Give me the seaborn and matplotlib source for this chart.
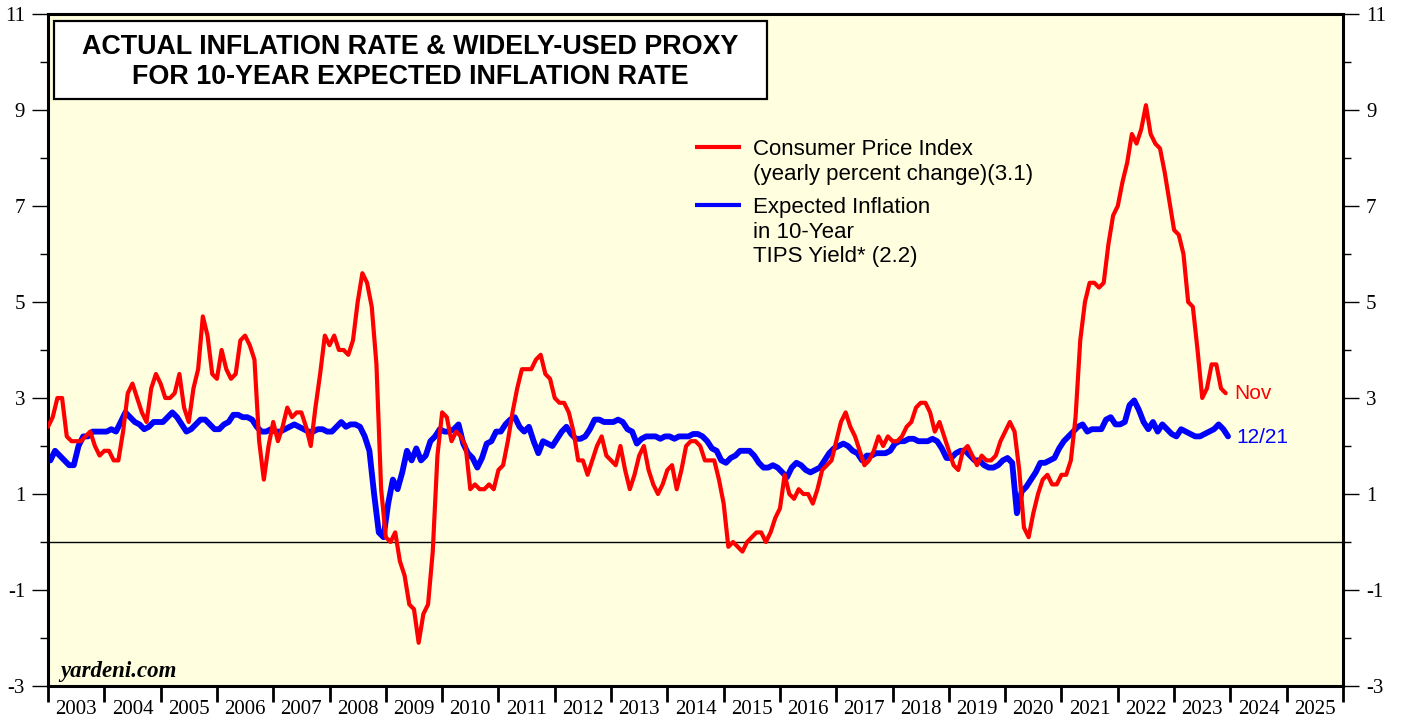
import matplotlib
matplotlib.use("Agg")
import matplotlib.pyplot as plt
import matplotlib.patches as mpatches
import pandas as pd
import seaborn as sns

sns.set_theme(style="ticks")
plt.rcParams.update({
    "text.color": "black",
    "axes.labelcolor": "black",
    "xtick.color": "black",
    "ytick.color": "black",
})

# CPI, yearly percent change, monthly from Dec 2002 to Nov 2023
cpi_start = "2002-12-01"
cpi_values = [
    2.4,
    2.6, 3.0, 3.0, 2.2, 2.1, 2.1, 2.1, 2.2, 2.3, 2.0, 1.8, 1.9,  # 2003
    1.9, 1.7, 1.7, 2.3, 3.1, 3.3, 3.0, 2.7, 2.5, 3.2, 3.5, 3.3,  # 2004
    3.0, 3.0, 3.1, 3.5, 2.8, 2.5, 3.2, 3.6, 4.7, 4.3, 3.5, 3.4,  # 2005
    4.0, 3.6, 3.4, 3.5, 4.2, 4.3, 4.1, 3.8, 2.1, 1.3, 2.0, 2.5,  # 2006
    2.1, 2.4, 2.8, 2.6, 2.7, 2.7, 2.4, 2.0, 2.8, 3.5, 4.3, 4.1,  # 2007
    4.3, 4.0, 4.0, 3.9, 4.2, 5.0, 5.6, 5.4, 4.9, 3.7, 1.1, 0.1,  # 2008
    0.0, 0.2, -0.4, -0.7, -1.3, -1.4, -2.1, -1.5, -1.3, -0.2, 1.8, 2.7,  # 2009
    2.6, 2.1, 2.3, 2.2, 2.0, 1.1, 1.2, 1.1, 1.1, 1.2, 1.1, 1.5,  # 2010
    1.6, 2.1, 2.7, 3.2, 3.6, 3.6, 3.6, 3.8, 3.9, 3.5, 3.4, 3.0,  # 2011
    2.9, 2.9, 2.7, 2.3, 1.7, 1.7, 1.4, 1.7, 2.0, 2.2, 1.8, 1.7,  # 2012
    1.6, 2.0, 1.5, 1.1, 1.4, 1.8, 2.0, 1.5, 1.2, 1.0, 1.2, 1.5,  # 2013
    1.6, 1.1, 1.5, 2.0, 2.1, 2.1, 2.0, 1.7, 1.7, 1.7, 1.3, 0.8,  # 2014
    -0.1, 0.0, -0.1, -0.2, 0.0, 0.1, 0.2, 0.2, 0.0, 0.2, 0.5, 0.7,  # 2015
    1.4, 1.0, 0.9, 1.1, 1.0, 1.0, 0.8, 1.1, 1.5, 1.6, 1.7, 2.1,  # 2016
    2.5, 2.7, 2.4, 2.2, 1.9, 1.6, 1.7, 1.9, 2.2, 2.0, 2.2, 2.1,  # 2017
    2.1, 2.2, 2.4, 2.5, 2.8, 2.9, 2.9, 2.7, 2.3, 2.5, 2.2, 1.9,  # 2018
    1.6, 1.5, 1.9, 2.0, 1.8, 1.6, 1.8, 1.7, 1.7, 1.8, 2.1, 2.3,  # 2019
    2.5, 2.3, 1.5, 0.3, 0.1, 0.6, 1.0, 1.3, 1.4, 1.2, 1.2, 1.4,  # 2020
    1.4, 1.7, 2.6, 4.2, 5.0, 5.4, 5.4, 5.3, 5.4, 6.2, 6.8, 7.0,  # 2021
    7.5, 7.9, 8.5, 8.3, 8.6, 9.1, 8.5, 8.3, 8.2, 7.7, 7.1, 6.5,  # 2022
    6.4, 6.0, 5.0, 4.9, 4.0, 3.0, 3.2, 3.7, 3.7, 3.2, 3.1,  # 2023
]

# Expected inflation in 10-year TIPS yield, monthly from Jan 2003 to Dec 2023
tips_start = "2003-01-01"
tips_values = [
    1.7, 1.9, 1.8, 1.7, 1.6, 1.6, 2.0, 2.2, 2.2, 2.3, 2.3, 2.3,  # 2003
    2.3, 2.35, 2.3, 2.5, 2.7, 2.6, 2.5, 2.45, 2.35, 2.4, 2.5, 2.5,  # 2004
    2.5, 2.6, 2.7, 2.6, 2.45, 2.3, 2.35, 2.45, 2.55, 2.55, 2.45, 2.35,  # 2005
    2.35, 2.45, 2.5, 2.65, 2.65, 2.6, 2.6, 2.55, 2.4, 2.3, 2.3, 2.35,  # 2006
    2.3, 2.3, 2.35, 2.4, 2.45, 2.4, 2.35, 2.3, 2.3, 2.35, 2.35, 2.3,  # 2007
    2.3, 2.4, 2.5, 2.4, 2.45, 2.45, 2.4, 2.2, 1.9, 1.0, 0.2, 0.1,  # 2008
    0.8, 1.3, 1.1, 1.45, 1.9, 1.7, 1.95, 1.7, 1.8, 2.1, 2.2, 2.35,  # 2009
    2.3, 2.3, 2.35, 2.45, 2.05, 1.85, 1.75, 1.55, 1.75, 2.05, 2.1, 2.3,  # 2010
    2.3, 2.45, 2.55, 2.6, 2.4, 2.3, 2.4, 2.1, 1.85, 2.1, 2.05, 2.0,  # 2011
    2.15, 2.3, 2.4, 2.25, 2.15, 2.15, 2.2, 2.35, 2.55, 2.55, 2.5, 2.5,  # 2012
    2.5, 2.55, 2.5, 2.35, 2.3, 2.05, 2.15, 2.2, 2.2, 2.2, 2.15, 2.2,  # 2013
    2.2, 2.15, 2.2, 2.2, 2.2, 2.25, 2.25, 2.2, 2.1, 1.95, 1.9, 1.7,  # 2014
    1.65, 1.75, 1.8, 1.9, 1.9, 1.9, 1.8, 1.65, 1.55, 1.55, 1.6, 1.55,  # 2015
    1.45, 1.35, 1.55, 1.65, 1.6, 1.5, 1.45, 1.5, 1.55, 1.7, 1.85, 1.95,  # 2016
    2.0, 2.05, 2.0, 1.9, 1.85, 1.7, 1.8, 1.8, 1.85, 1.85, 1.85, 1.9,  # 2017
    2.05, 2.1, 2.1, 2.15, 2.15, 2.1, 2.1, 2.1, 2.15, 2.1, 1.95, 1.75,  # 2018
    1.75, 1.85, 1.9, 1.9, 1.8, 1.7, 1.7, 1.6, 1.55, 1.55, 1.6, 1.7,  # 2019
    1.75, 1.65, 0.6, 1.05, 1.15, 1.3, 1.45, 1.65, 1.65, 1.7, 1.75, 1.95,  # 2020
    2.1, 2.2, 2.3, 2.4, 2.45, 2.3, 2.35, 2.35, 2.35, 2.55, 2.6, 2.45,  # 2021
    2.45, 2.5, 2.85, 2.95, 2.75, 2.5, 2.35, 2.5, 2.3, 2.45, 2.35, 2.25,  # 2022
    2.2, 2.35, 2.3, 2.25, 2.2, 2.2, 2.25, 2.3, 2.35, 2.45, 2.35, 2.2,  # 2023
]

years = list(range(2003, 2026))
y_major = [-3, -1, 1, 3, 5, 7, 9, 11]
y_minor = [-2, 0, 2, 4, 6, 8, 10]

title = "ACTUAL INFLATION RATE & WIDELY-USED PROXY\nFOR 10-YEAR EXPECTED INFLATION RATE"
cpi_label = "Consumer Price Index\n(yearly percent change)(3.1)"
tips_label = "Expected Inflation\nin 10-Year\nTIPS Yield* (2.2)"

RED = "#FF0000"
BLUE = "#0000FF"
SERIF = ["Liberation Serif", "DejaVu Serif"]
SANS = ["Liberation Sans", "DejaVu Sans"]
TICK_FONTSIZE = 15

# decimal years: CPI at month end, TIPS at mid month
cpi_dates = pd.date_range(cpi_start, periods=len(cpi_values), freq="MS")
cpi = pd.DataFrame({"x": cpi_dates.year + cpi_dates.month / 12, "value": cpi_values})
tips_dates = pd.date_range(tips_start, periods=len(tips_values), freq="MS")
tips = pd.DataFrame({"x": tips_dates.year + (tips_dates.month - 0.5) / 12, "value": tips_values})

fig, ax = plt.subplots(figsize=(14.03, 7.17), dpi=100)
fig.patch.set_facecolor("white")
fig.subplots_adjust(left=48 / 1403, right=1343 / 1403, bottom=31 / 717, top=1 - 14 / 717)
ax.set_facecolor("#FFFFE0")

ax.axhline(0, color="black", lw=1.0, zorder=1)
sns.lineplot(data=tips, x="x", y="value", color=BLUE, lw=4.2, ax=ax, legend=False, zorder=2)
sns.lineplot(data=cpi, x="x", y="value", color=RED, lw=3.0, ax=ax, legend=False, zorder=3)

ax.set_xlim(2003, 2026)
ax.set_ylim(-3, 11)
ax.set_xlabel("")
ax.set_ylabel("")

# y axis on both sides
ax.set_yticks(y_major)
ax.set_yticks(y_minor, minor=True)
ax.set_yticklabels([str(v) for v in y_major])
ax.tick_params(axis="y", which="both", left=True, right=True, labelleft=True,
               labelright=True, direction="out", width=1.0, pad=5)
ax.tick_params(axis="y", which="major", length=11.5)
ax.tick_params(axis="y", which="minor", length=6)
for lbl in ax.get_yticklabels(which="major"):
    lbl.set_fontfamily(SERIF)
    lbl.set_fontsize(TICK_FONTSIZE)

# x axis: year boundaries ticked, labels centred inside each year
ax.set_xticks(years + [2026])
ax.set_xticklabels([""] * (len(years) + 1))
ax.set_xticks([y + 0.5 for y in years], minor=True)
ax.set_xticklabels([str(y) for y in years], minor=True, fontfamily=SERIF, fontsize=TICK_FONTSIZE)
ax.tick_params(axis="x", which="major", direction="out", length=11.5, width=2.0)
ax.tick_params(axis="x", which="minor", length=0, pad=10)

for side in ["left", "right", "bottom", "top"]:
    ax.spines[side].set_visible(True)
    ax.spines[side].set_color("black")
    ax.spines[side].set_linewidth(2.2)

# title box
ax.add_patch(mpatches.Rectangle((0.0046, 0.873), 0.5504, 0.1166, transform=ax.transAxes,
                                facecolor="white", edgecolor="black", lw=1.6, zorder=5))
ax.text(0.2798, 0.929, title, transform=ax.transAxes, ha="center", va="center",
        fontfamily=SANS, fontweight="bold", fontsize=19.4, linespacing=1.2, zorder=6)

# legend: key line level with the first line of each label
legend_items = [(cpi_label, RED, 0.8018), (tips_label, BLUE, 0.7154)]
for label, color, key_y in legend_items:
    ax.plot([0.4996, 0.5351], [key_y, key_y], transform=ax.transAxes, color=color,
            lw=3.0, solid_capstyle="butt", zorder=4)
    ax.text(0.5444, key_y + 0.0119, label, transform=ax.transAxes, ha="left", va="top",
            fontfamily=SANS, fontsize=16, linespacing=1.22, zorder=4)

# end-of-series labels
ax.annotate("Nov", xy=(cpi["x"].iloc[-1], cpi["value"].iloc[-1]), xytext=(6, 0),
            textcoords="offset points", ha="left", va="center", color=RED,
            fontfamily=SANS, fontsize=15)
ax.annotate("12/21", xy=(tips["x"].iloc[-1], tips["value"].iloc[-1]), xytext=(6, -1),
            textcoords="offset points", ha="left", va="center", color=BLUE,
            fontfamily=SANS, fontsize=15)

ax.text(0.0093, 0.0134, "yardeni.com", transform=ax.transAxes, ha="left", va="baseline",
        fontfamily=SERIF, fontweight="bold", fontstyle="italic", fontsize=16.5)

fig.savefig("out.png", dpi=100)
